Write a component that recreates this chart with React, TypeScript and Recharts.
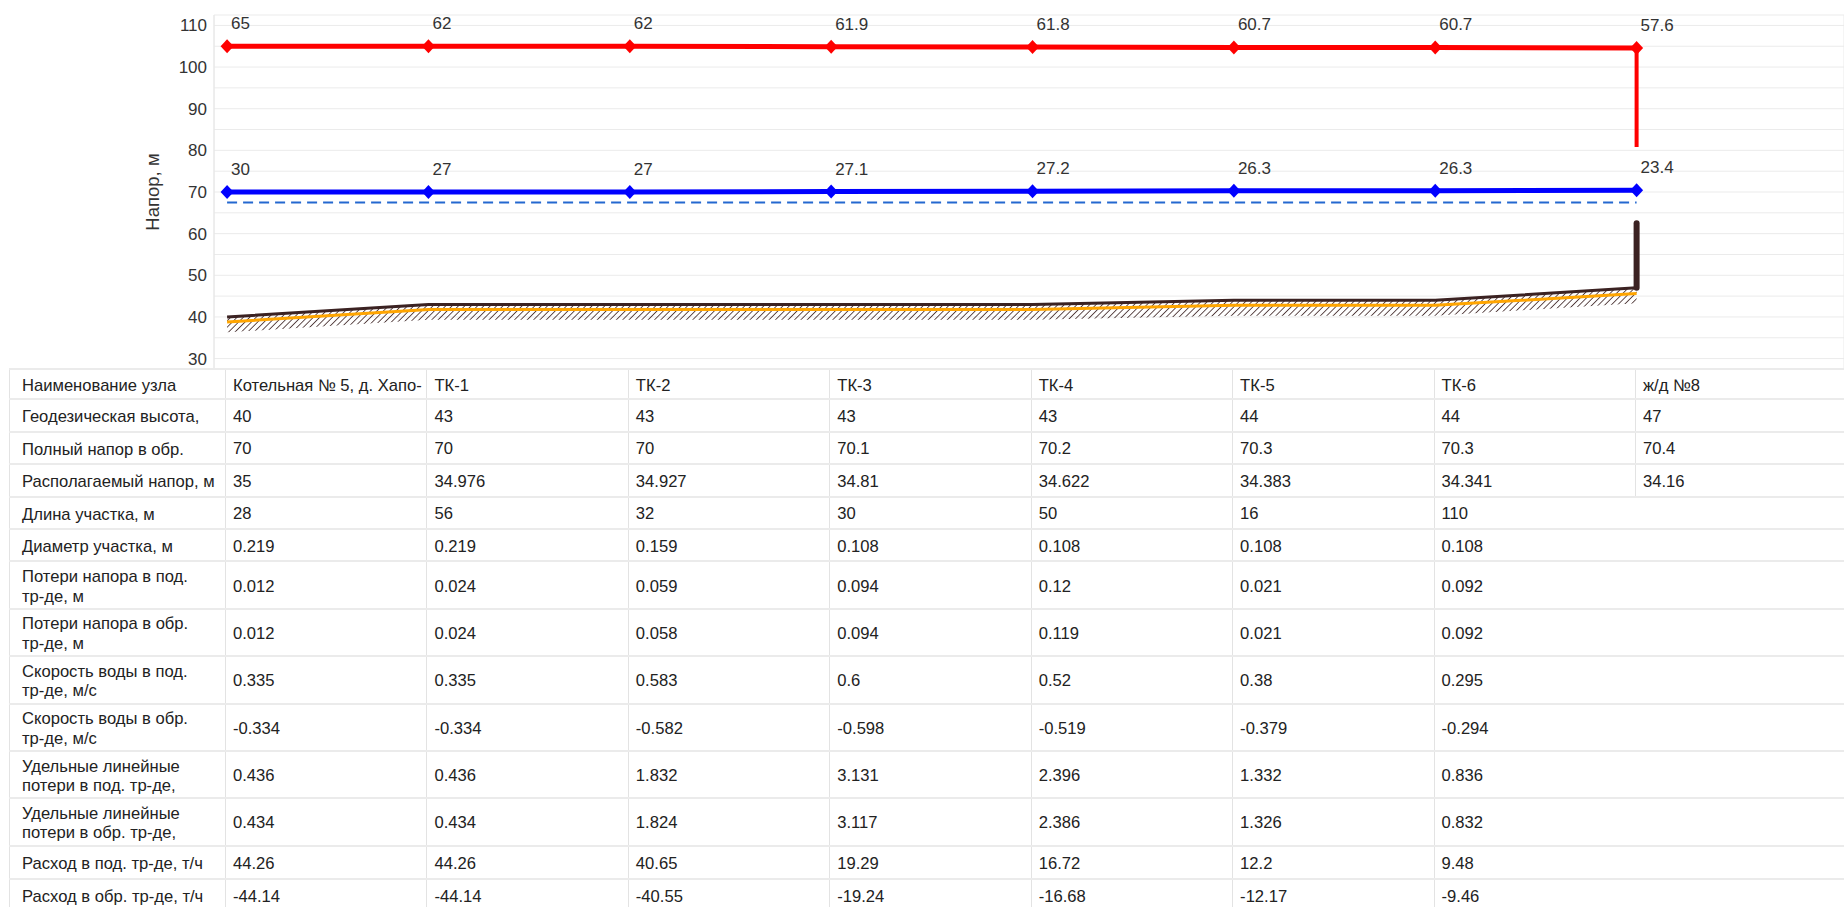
import React from "react";
import { ComposedChart, Line, Area, XAxis, YAxis, CartesianGrid, LabelList } from "recharts";

// узлы трассы
const nodeNames = ["Котельная № 5, д. Хапо-", "ТК-1", "ТК-2", "ТК-3", "ТК-4", "ТК-5", "ТК-6", "ж/д №8"];
const nodeIndex = [0, 1, 2, 3, 4, 5, 6, 7];

// пьезометрический график
const supplyHead = [105, 105, 105, 104.9, 104.8, 104.7, 104.7, 104.6];
const supplyPressure = [65, 62, 62, 61.9, 61.8, 60.7, 60.7, 57.6];
const returnHead = [70, 70, 70, 70.1, 70.2, 70.3, 70.3, 70.4];
const returnPressure = [30, 27, 27, 27.1, 27.2, 26.3, 26.3, 23.4];
const staticHead = [67.5, 67.5, 67.5, 67.5, 67.5, 67.5, 67.5, 67.5];
const groundLevel = [40, 43, 43, 43, 43, 44, 44, 47];
const pipeLevel = [38.8, 41.8, 41.8, 41.8, 41.8, 42.8, 42.8, 45.6];
const soilBottom = [36.3, 39.3, 39.3, 39.3, 39.3, 40.3, 40.3, 43.3];

// вертикали у потребителя (ж/д №8)
const consumerSupplyDrop = [104.6, 80.8];
const consumerRise = [47, 62.5];

const yTicks = [27.5, 30, 35, 40, 45, 50, 55, 60, 65, 70, 75, 80, 85, 90, 95, 100, 105, 110, 112.5];

// таблица
const geodesicHeight = [40, 43, 43, 43, 43, 44, 44, 47];
const fullReturnHead = [70, 70, 70, 70.1, 70.2, 70.3, 70.3, 70.4];
const availableHead = [35, 34.976, 34.927, 34.81, 34.622, 34.383, 34.341, 34.16];
const sectionLength = [28, 56, 32, 30, 50, 16, 110];
const sectionDiameter = [0.219, 0.219, 0.159, 0.108, 0.108, 0.108, 0.108];
const lossSupply = [0.012, 0.024, 0.059, 0.094, 0.12, 0.021, 0.092];
const lossReturn = [0.012, 0.024, 0.058, 0.094, 0.119, 0.021, 0.092];
const velocitySupply = [0.335, 0.335, 0.583, 0.6, 0.52, 0.38, 0.295];
const velocityReturn = [-0.334, -0.334, -0.582, -0.598, -0.519, -0.379, -0.294];
const specLossSupply = [0.436, 0.436, 1.832, 3.131, 2.396, 1.332, 0.836];
const specLossReturn = [0.434, 0.434, 1.824, 3.117, 2.386, 1.326, 0.832];
const flowSupply = [44.26, 44.26, 40.65, 19.29, 16.72, 12.2, 9.48];
const flowReturn = [-44.14, -44.14, -40.55, -19.24, -16.68, -12.17, -9.46];

const rowLabels = [
    ["Наименование узла"],
    ["Геодезическая высота,"],
    ["Полный напор в обр."],
    ["Располагаемый напор, м"],
    ["Длина участка, м"],
    ["Диаметр участка, м"],
    ["Потери напора в под.", "тр-де, м"],
    ["Потери напора в обр.", "тр-де, м"],
    ["Скорость воды в под.", "тр-де, м/с"],
    ["Скорость воды в обр.", "тр-де, м/с"],
    ["Удельные линейные", "потери в под. тр-де,"],
    ["Удельные линейные", "потери в обр. тр-де,"],
    ["Расход в под. тр-де, т/ч"],
    ["Расход в обр. тр-де, т/ч"],
];
const rowValues: (string | number)[][] = [
    nodeNames, geodesicHeight, fullReturnHead, availableHead, sectionLength, sectionDiameter,
    lossSupply, lossReturn, velocitySupply, velocityReturn, specLossSupply, specLossReturn,
    flowSupply, flowReturn,
];

const chartData = nodeIndex.map((i) => ({
    x: i,
    supply: supplyHead[i],
    supplyLabel: supplyPressure[i],
    ret: returnHead[i],
    retLabel: returnPressure[i],
    stat: staticHead[i],
    ground: groundLevel[i],
    pipe: pipeLevel[i],
    soil: [soilBottom[i], groundLevel[i]],
}));
const supplyDropData = consumerSupplyDrop.map((v) => ({ x: 7, v }));
const riseData = consumerRise.map((v) => ({ x: 7, v }));

const FONT = '"Liberation Sans", Arial, sans-serif';
const COL_W = 201.43;

const Diamond = (props: any) => {
    const { cx, cy, fill, index } = props;
    if (cx == null || cy == null) return <g key={index} />;
    return <path key={index} d={`M${cx},${cy - 7}L${cx + 6.5},${cy}L${cx},${cy + 7}L${cx - 6.5},${cy}Z`} fill={fill} />;
};

const pointLabel = (props: any) => {
    const { x, y, value, index } = props;
    return (
        <text key={index} x={x + 4} y={y - 17} fontSize={17} fill="#333" fontFamily={FONT}>
            {value}
        </text>
    );
};

function DataTable() {
    return (
        <div style={{ position: "absolute", left: 9, top: 368, right: 0, fontFamily: FONT, fontSize: 16.6, color: "#222" }}>
            {rowLabels.map((lines, r) => {
                const h = lines.length > 1 ? 47.4 : r >= 12 ? 33 : 32.4;
                return (
                    <div key={r} style={{ display: "flex", height: h, boxSizing: "border-box", borderBottom: "2px solid #ebebeb", borderTop: r === 0 ? "2px solid #ebebeb" : undefined }}>
                        <div style={{ width: 216, flex: "none", boxSizing: "border-box", borderLeft: "1px solid #e3e3e3", padding: "3px 0 0 12px", display: "flex", flexDirection: "column", justifyContent: "center", lineHeight: "19.5px", overflow: "hidden", whiteSpace: "nowrap" }}>
                            {lines.map((l, k) => <div key={k}>{l}</div>)}
                        </div>
                        {rowValues[r].map((v, c) => (
                            <div key={c} style={{ width: COL_W, flex: "none", boxSizing: "border-box", borderLeft: "1px solid #e3e3e3", padding: "3px 0 0 7px", display: "flex", alignItems: "center", overflow: "hidden", whiteSpace: "nowrap" }}>
                                {String(v)}
                            </div>
                        ))}
                    </div>
                );
            })}
        </div>
    );
}

export default function App() {
    return (
        <div style={{ position: "absolute", left: 0, top: 0, width: 1844, height: 907, overflow: "hidden", background: "#fff" }}>
            <ComposedChart width={1844} height={369} data={chartData} margin={{ top: 15, right: 0, bottom: 0, left: 0 }}>
                <defs>
                    <pattern id="hatch" patternUnits="userSpaceOnUse" width={4.5} height={4.5} patternTransform="rotate(45)">
                        <line x1={0} y1={0} x2={0} y2={4.5} stroke="#3b2222" strokeWidth={1.6} />
                    </pattern>
                </defs>
                <CartesianGrid stroke="#ebebeb" />
                <XAxis dataKey="x" type="number" domain={[-0.065, 8.03]} ticks={nodeIndex} allowDataOverflow height={0} tick={false} axisLine={false} tickLine={false} />
                <YAxis
                    type="number"
                    domain={[27.5, 112.5]}
                    ticks={yTicks}
                    interval={0}
                    allowDataOverflow
                    width={214}
                    tickSize={0}
                    tickMargin={7}
                    axisLine={{ stroke: "#e6e6e6" }}
                    tickLine={false}
                    tick={{ fontSize: 17, fill: "#333", fontFamily: FONT }}
                    tickFormatter={(v: number) => (v % 10 === 0 ? String(v) : "")}
                    label={{
                        value: "Напор, м",
                        content: (p: any) => {
                            const vb = p.viewBox || { x: 0, y: 15, width: 214, height: 354 };
                            const cx = vb.x + 152;
                            const cy = vb.y + vb.height / 2;
                            return (
                                <text x={cx} y={cy} transform={`rotate(-90 ${cx} ${cy})`} textAnchor="middle" dominantBaseline="central" fontSize={18.5} fill="#333" fontFamily={FONT}>
                                    Напор, м
                                </text>
                            );
                        },
                    }}
                />
                <Area type="linear" dataKey="soil" stroke="none" fill="url(#hatch)" fillOpacity={1} isAnimationActive={false} dot={false} activeDot={false} />
                <Line type="linear" dataKey="pipe" stroke="#ffa500" strokeWidth={3} dot={false} activeDot={false} isAnimationActive={false} />
                <Line type="linear" dataKey="ground" stroke="#3b2222" strokeWidth={3} dot={false} activeDot={false} isAnimationActive={false} />
                <Line type="linear" data={riseData} dataKey="v" stroke="#3b2222" strokeWidth={6} strokeLinecap="round" dot={false} activeDot={false} isAnimationActive={false} />
                <Line type="linear" dataKey="stat" stroke="#2468d0" strokeWidth={2} strokeDasharray="10 6" dot={false} activeDot={false} isAnimationActive={false} />
                <Line type="linear" data={supplyDropData} dataKey="v" stroke="#ff0000" strokeWidth={4} dot={false} activeDot={false} isAnimationActive={false} />
                <Line type="linear" dataKey="ret" stroke="#0000ff" strokeWidth={5} dot={(p: any) => <Diamond key={p.index} {...p} fill="#0000ff" />} activeDot={false} isAnimationActive={false}>
                    <LabelList dataKey="retLabel" content={pointLabel} />
                </Line>
                <Line type="linear" dataKey="supply" stroke="#ff0000" strokeWidth={5} dot={(p: any) => <Diamond key={p.index} {...p} fill="#ff0000" />} activeDot={false} isAnimationActive={false}>
                    <LabelList dataKey="supplyLabel" content={pointLabel} />
                </Line>
            </ComposedChart>
            <DataTable />
        </div>
    );
}
